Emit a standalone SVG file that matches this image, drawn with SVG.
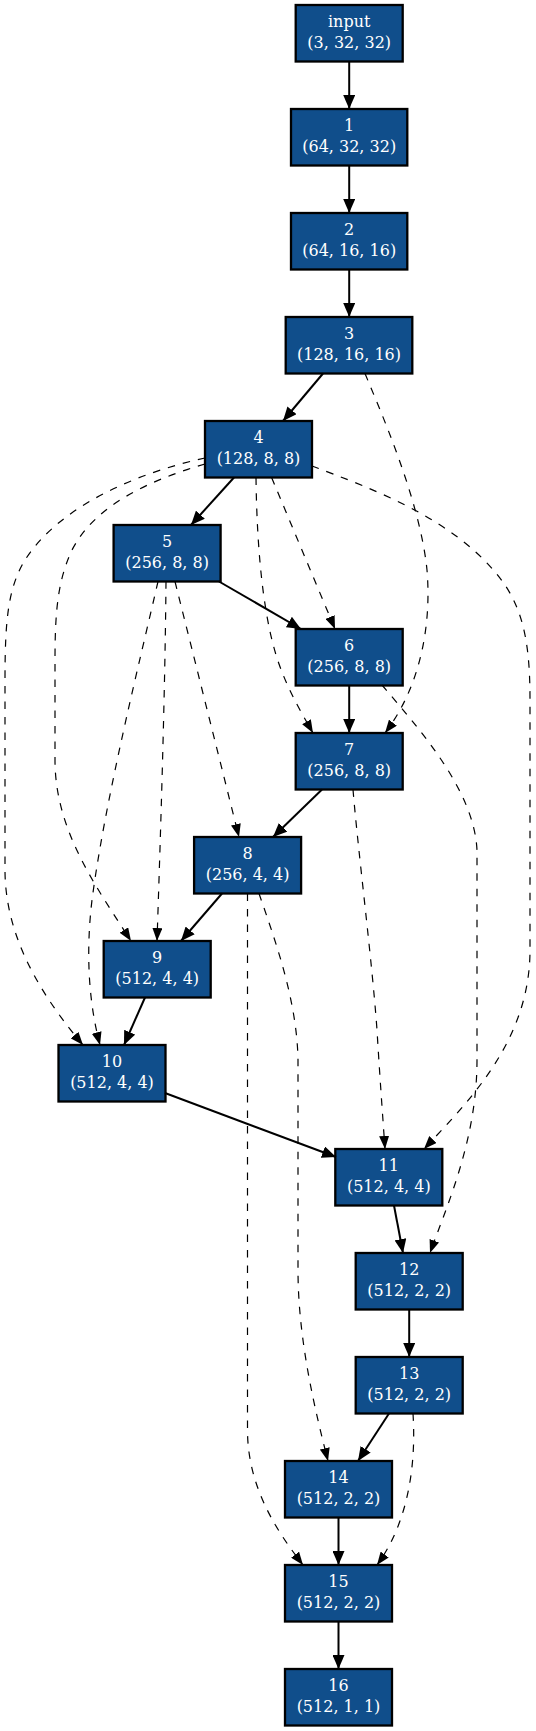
<svg xmlns="http://www.w3.org/2000/svg" width="536" height="1731" viewBox="0 0 536 1731">
<style>
.n rect{fill:#104e8b;stroke:#000;stroke-width:2.3}
.n text{font-family:"DejaVu Serif","Liberation Serif",serif;font-size:16px;fill:#fff;text-anchor:middle}
.s{fill:none;stroke:#000;stroke-width:2;marker-end:url(#ah)}
.d{fill:none;stroke:#000;stroke-width:1.2;stroke-dasharray:7.5,8;marker-end:url(#ahd)}
</style>
<defs>
<marker id="ah" viewBox="0 0 14 12" refX="14" refY="6" markerWidth="14" markerHeight="12" markerUnits="userSpaceOnUse" orient="auto"><path d="M0,0 L14,6 L0,12 z" fill="#000"/></marker>
<marker id="ahd" viewBox="0 0 13 10" refX="13" refY="5" markerWidth="13" markerHeight="10" markerUnits="userSpaceOnUse" orient="auto"><path d="M0,0 L13,5 L0,10 z" fill="#000"/></marker>
</defs>
<rect width="536" height="1731" fill="#fff"/>
<g id="nodes">
<g id="node-input" class="n"><rect x="295.7" y="5" width="107" height="56.5"/><text x="349.2" y="26.7">input</text><text x="349.2" y="48.3">(3, 32, 32)</text></g>
<g id="node-1" class="n"><rect x="291" y="109" width="116.3" height="56.5"/><text x="349.2" y="130.7">1</text><text x="349.2" y="152.3">(64, 32, 32)</text></g>
<g id="node-2" class="n"><rect x="291" y="213" width="116.3" height="56.5"/><text x="349.2" y="234.7">2</text><text x="349.2" y="256.3">(64, 16, 16)</text></g>
<g id="node-3" class="n"><rect x="285.7" y="317" width="126.6" height="56.5"/><text x="349" y="338.7">3</text><text x="349" y="360.3">(128, 16, 16)</text></g>
<g id="node-4" class="n"><rect x="205" y="421" width="107" height="56.5"/><text x="258.5" y="442.7">4</text><text x="258.5" y="464.3">(128, 8, 8)</text></g>
<g id="node-5" class="n"><rect x="113.6" y="525" width="107" height="56.5"/><text x="167.1" y="546.7">5</text><text x="167.1" y="568.3">(256, 8, 8)</text></g>
<g id="node-6" class="n"><rect x="295.7" y="629" width="107" height="56.5"/><text x="349.2" y="650.7">6</text><text x="349.2" y="672.3">(256, 8, 8)</text></g>
<g id="node-7" class="n"><rect x="295.7" y="733" width="107" height="56.5"/><text x="349.2" y="754.7">7</text><text x="349.2" y="776.3">(256, 8, 8)</text></g>
<g id="node-8" class="n"><rect x="194.1" y="837" width="107" height="56.5"/><text x="247.6" y="858.7">8</text><text x="247.6" y="880.3">(256, 4, 4)</text></g>
<g id="node-9" class="n"><rect x="103.7" y="941" width="107" height="56.5"/><text x="157.2" y="962.7">9</text><text x="157.2" y="984.3">(512, 4, 4)</text></g>
<g id="node-10" class="n"><rect x="58.5" y="1045" width="107" height="56.5"/><text x="112" y="1066.7">10</text><text x="112" y="1088.3">(512, 4, 4)</text></g>
<g id="node-11" class="n"><rect x="335.3" y="1149" width="107" height="56.5"/><text x="388.8" y="1170.7">11</text><text x="388.8" y="1192.3">(512, 4, 4)</text></g>
<g id="node-12" class="n"><rect x="355.7" y="1253" width="107" height="56.5"/><text x="409.2" y="1274.7">12</text><text x="409.2" y="1296.3">(512, 2, 2)</text></g>
<g id="node-13" class="n"><rect x="355.7" y="1357" width="107" height="56.5"/><text x="409.2" y="1378.7">13</text><text x="409.2" y="1400.3">(512, 2, 2)</text></g>
<g id="node-14" class="n"><rect x="285" y="1461" width="107" height="56.5"/><text x="338.5" y="1482.7">14</text><text x="338.5" y="1504.3">(512, 2, 2)</text></g>
<g id="node-15" class="n"><rect x="285" y="1565" width="107" height="56.5"/><text x="338.5" y="1586.7">15</text><text x="338.5" y="1608.3">(512, 2, 2)</text></g>
<g id="node-16" class="n"><rect x="285" y="1669" width="107" height="56.5"/><text x="338.5" y="1690.7">16</text><text x="338.5" y="1712.3">(512, 1, 1)</text></g>
</g>
<g id="connectors">
<path class="s" d="M349.2,61.5 L349.2,109"/>
<path class="s" d="M349.2,165.5 L349.2,213"/>
<path class="s" d="M349.2,269.5 L349.2,317"/>
<path class="s" d="M323,373.5 L283,421"/>
<path class="s" d="M234,477.5 L191,525"/>
<path class="s" d="M219,581.5 L301,629"/>
<path class="s" d="M349.2,685.5 L349.2,733"/>
<path class="s" d="M322,789.5 L273,837"/>
<path class="s" d="M222,893.5 L181,941"/>
<path class="s" d="M145,997.5 L124,1045"/>
<path class="s" d="M165,1093 L336,1157"/>
<path class="s" d="M394,1205.5 L403,1253"/>
<path class="s" d="M409.2,1309.5 L409.2,1357"/>
<path class="s" d="M389,1413.5 L358,1461"/>
<path class="s" d="M338.5,1517.5 L338.5,1565"/>
<path class="s" d="M338.5,1621.5 L338.5,1669"/>
<path class="d" d="M365,373.5 C380,410 420,500 427,570 C432,630 418,690 385,733"/>
<path class="d" d="M271.6,477.5 L335,629"/>
<path class="d" d="M256,477.5 C257,560 265,630 282,672 C291,695 302,714 313,733"/>
<path class="d" d="M312,466 C370,488 460,520 505,585 C525,615 530,650 530,700 L530,950 C530,1040 470,1100 424,1149"/>
<path class="d" d="M205,458 C140,472 60,505 25,560 C8,588 5,620 5,680 L5,870 C5,940 45,1000 83,1045"/>
<path class="d" d="M205,464 C150,480 95,505 72,550 C58,580 55,610 55,660 L55,760 C55,830 95,885 131,941"/>
<path class="d" d="M158,581.5 C140,660 105,800 92,900 C86,950 88,1000 100,1045"/>
<path class="d" d="M166,581.5 C165,700 160,850 157,941"/>
<path class="d" d="M175,581.5 L239,837"/>
<path class="d" d="M382,685 C420,730 474,790 477,850 L477,1060 C477,1140 447,1205 430,1253"/>
<path class="d" d="M353,789.5 C358,850 372,960 377,1030 C380,1080 383,1120 385,1149"/>
<path class="d" d="M247.5,893.5 L247.5,1430 C247.5,1490 280,1535 303,1565"/>
<path class="d" d="M259,893.5 C275,940 297,1000 298,1060 L298,1270 C298,1340 315,1410 328,1461"/>
<path class="d" d="M413,1413.5 C416,1460 410,1520 377,1565"/>
</g>
</svg>
